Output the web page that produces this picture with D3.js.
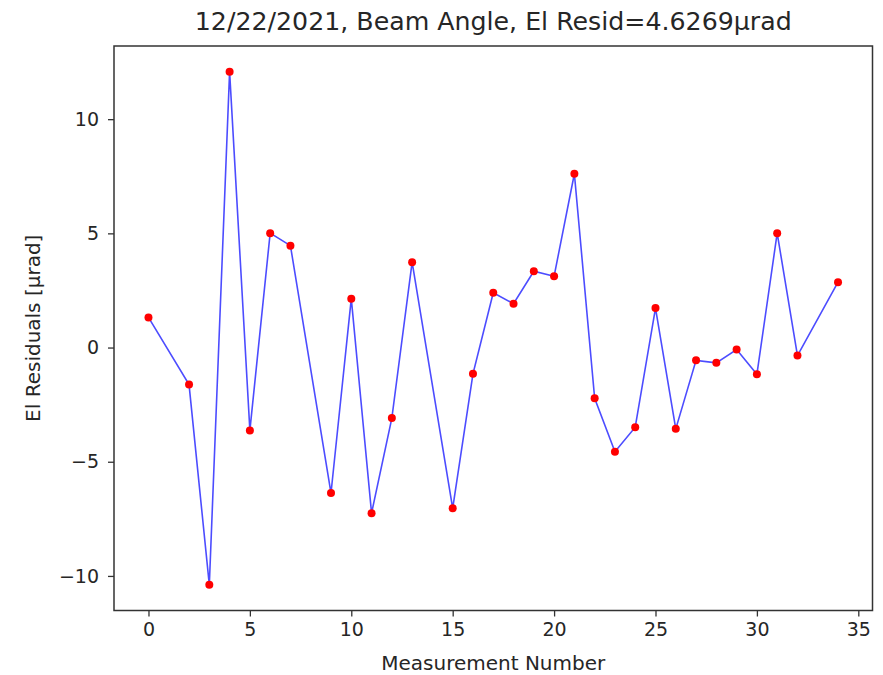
<!DOCTYPE html>
<html>
<head>
<meta charset="utf-8">
<script src="https://cdn.jsdelivr.net/npm/d3@7"></script>
<style>
  body { margin: 0; background: #fff; }
  text { font-family: "DejaVu Sans", sans-serif; fill: #262626; }
</style>
</head>
<body>
<script>
// measurement numbers and elevation residuals (µrad)
var measNum = [0, 2, 3, 4, 5, 6, 7, 9, 10, 11, 12, 13, 15, 16, 17, 18, 19, 20, 21, 22, 23, 24, 25, 26, 27, 28, 29, 30, 31, 32, 34];
var elResid = [1.32, -1.62, -10.39, 12.08, -3.63, 5.01, 4.46, -6.37, 2.14, -7.25, -3.09, 3.74, -7.04, -1.15, 2.40, 1.92, 3.34, 3.12, 7.61, -2.22, -4.56, -3.49, 1.73, -3.56, -0.56, -0.67, -0.09, -1.17, 5.01, -0.35, 2.86];
var xTicks = [0, 5, 10, 15, 20, 25, 30, 35];
var yTicks = [-10, -5, 0, 5, 10];
var titleText = '12/22/2021, Beam Angle, El Resid=4.6269\u03bcrad';

var width = 883, height = 675;
var margin = {top: 46, right: 10.5, bottom: 64.5, left: 114};

var svg = d3.select('body').append('svg')
  .attr('width', width)
  .attr('height', height);

var points = measNum.map(function(d, i) { return {x: d, y: elResid[i]}; });

// matplotlib style 5% margins
function padded(ext) {
  var p = (ext[1] - ext[0]) * 0.05;
  return [ext[0] - p, ext[1] + p];
}

var x = d3.scaleLinear()
  .domain(padded(d3.extent(measNum)))
  .range([margin.left, width - margin.right]);

var y = d3.scaleLinear()
  .domain(padded(d3.extent(elResid)))
  .range([height - margin.bottom, margin.top]);

var fmt = function(d) { return d < 0 ? '\u2212' + Math.abs(d) : String(d); };

// x axis
var gx = svg.append('g')
  .attr('transform', 'translate(0,' + (height - margin.bottom) + ')')
  .call(d3.axisBottom(x).tickValues(xTicks).tickFormat(fmt).tickSize(6).tickPadding(6));
gx.select('.domain').remove();
gx.selectAll('line').attr('stroke', '#333').attr('stroke-width', 1.3);
gx.selectAll('text').attr('font-size', 19).attr('font-family', '"DejaVu Sans", sans-serif').attr('fill', '#262626');

// y axis
var gy = svg.append('g')
  .attr('transform', 'translate(' + margin.left + ',0)')
  .call(d3.axisLeft(y).tickValues(yTicks).tickFormat(fmt).tickSize(6).tickPadding(9));
gy.select('.domain').remove();
gy.selectAll('line').attr('stroke', '#333').attr('stroke-width', 1.3);
gy.selectAll('text').attr('font-size', 19).attr('font-family', '"DejaVu Sans", sans-serif').attr('fill', '#262626');

// line + markers
var line = d3.line()
  .x(function(d) { return x(d.x); })
  .y(function(d) { return y(d.y); });

svg.append('path')
  .datum(points)
  .attr('d', line)
  .attr('fill', 'none')
  .attr('stroke', 'blue')
  .attr('stroke-opacity', 0.7)
  .attr('stroke-width', 1.6);

svg.selectAll('circle')
  .data(points)
  .enter()
  .append('circle')
  .attr('cx', function(d) { return x(d.x); })
  .attr('cy', function(d) { return y(d.y); })
  .attr('r', 4)
  .attr('fill', 'red');

// frame
svg.append('rect')
  .attr('x', margin.left)
  .attr('y', margin.top)
  .attr('width', width - margin.left - margin.right)
  .attr('height', height - margin.top - margin.bottom)
  .attr('fill', 'none')
  .attr('stroke', '#333')
  .attr('stroke-width', 1.5);

// labels
svg.append('text')
  .attr('x', (margin.left + width - margin.right) / 2)
  .attr('y', 30)
  .attr('text-anchor', 'middle')
  .attr('font-size', 24)
  .attr('textLength', 597)
  .attr('lengthAdjust', 'spacingAndGlyphs')
  .text(titleText);

svg.append('text')
  .attr('x', (margin.left + width - margin.right) / 2)
  .attr('y', 670)
  .attr('text-anchor', 'middle')
  .attr('font-size', 20)
  .text('Measurement Number');

svg.append('text')
  .attr('transform', 'translate(39.5,' + ((margin.top + height - margin.bottom) / 2) + ') rotate(-90)')
  .attr('text-anchor', 'middle')
  .attr('font-size', 20)
  .text('El Residuals [\u03bcrad]');
</script>
</body>
</html>
